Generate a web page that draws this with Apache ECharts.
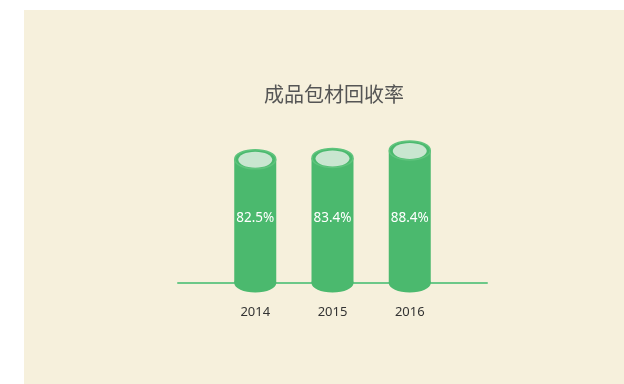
<!DOCTYPE html>
<html>
<head>
<meta charset="utf-8">
<style>
  html, body { margin: 0; padding: 0; background: #ffffff; }
  #chart { width: 624px; height: 384px; }
</style>
<script src="https://cdn.jsdelivr.net/npm/echarts@6/dist/echarts.min.js"></script>
</head>
<body>
<div id="chart"></div>
<script>
// Recovery rate of finished-goods packaging materials, by year
var years = [2014, 2015, 2016];
var rates = [82.5, 83.4, 88.4];
var labelLevel = 43; // value-axis height at which the rate labels sit

var GREEN = '#4bb96e';
var RIM = '#5fc47d';
var LID = '#c9e6d0';

var chart = echarts.init(document.getElementById('chart'), null, { renderer: 'canvas' });

function renderCylinder(params, api) {
  var x = api.value(0);
  var v = api.value(1);
  var top = api.coord([x, v]);
  var base = api.coord([x, 0]);
  var lbl = api.coord([x, labelLevel]);
  var halfW = 21;
  var ry = 9.5;
  var cx = top[0];
  return {
    type: 'group',
    children: [
      { type: 'ellipse', shape: { cx: cx, cy: base[1], rx: halfW, ry: ry }, style: { fill: GREEN }, z2: 1 },
      { type: 'rect', shape: { x: cx - halfW, y: top[1], width: halfW * 2, height: base[1] - top[1] }, style: { fill: GREEN }, z2: 2 },
      { type: 'ellipse', shape: { cx: cx, cy: top[1], rx: halfW - 0.5, ry: ry }, style: { fill: GREEN, stroke: RIM, lineWidth: 1.5 }, z2: 3 },
      { type: 'ellipse', shape: { cx: cx, cy: top[1] + 0.5, rx: 17, ry: 8 }, style: { fill: LID }, z2: 4 },
      { type: 'text', x: cx, y: lbl[1], style: { text: api.value(1) + '%', fill: '#ffffff', font: '13.5px "Noto Sans", sans-serif', align: 'center', verticalAlign: 'middle' }, z2: 5 }
    ]
  };
}

chart.setOption({
  backgroundColor: '#ffffff',
  animation: false,
  graphic: [{
    type: 'rect', left: 24, top: 10, z: -10,
    shape: { width: 600, height: 374 },
    style: { fill: '#f6f0dc' }
  }],
  title: {
    text: '成品包材回收率',
    left: 259,
    top: 79,
    textStyle: { fontFamily: '"Noto Sans CJK SC", sans-serif', fontSize: 20, fontWeight: 'normal', color: '#555555' }
  },
  grid: { left: 178, right: 137, top: 133, bottom: 101 },
  xAxis: {
    type: 'value',
    min: 2013, max: 2017, interval: 1,
    splitLine: { show: false },
    axisTick: { show: false },
    axisLine: { show: true, onZero: false, lineStyle: { color: '#6cc888', width: 2 } },
    axisLabel: {
      margin: 23,
      color: '#333333',
      fontFamily: '"Noto Sans", sans-serif',
      fontSize: 13,
      formatter: function (v) { return years.indexOf(v) >= 0 ? String(v) : ''; }
    }
  },
  yAxis: {
    type: 'value', min: 0, max: 100,
    show: false
  },
  series: [{
    type: 'custom',
    renderItem: renderCylinder,
    data: years.map(function (y, i) { return [y, rates[i]]; }),
    z: 5
  }]
});
</script>
</body>
</html>
